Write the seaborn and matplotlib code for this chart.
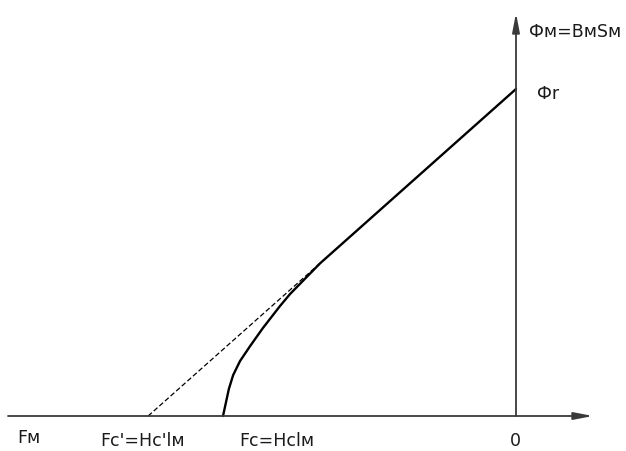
#Import packages
import numpy as np
import pandas as pd
import matplotlib
matplotlib.use("Agg")
import matplotlib.pyplot as plt
import seaborn as sns

#Demagnetisation curve (Фr = 1, flux on y, mmf on x)
curve_F = [0.0, -0.599, -0.645, -0.691, -0.722, -0.774, -0.813, -0.844, -0.865, -0.878, -0.896]
curve_Phi = [1.0, 0.467, 0.420, 0.373, 0.336, 0.269, 0.214, 0.168, 0.125, 0.083, 0.0]

#Straight return line, dashed part from Fc' up to where it meets the curve
dash_F = [-1.125, -0.60]
dash_Phi = [0.0, 0.4665]

#Labels
label_flux = "Фм=BмSм"
label_flux_r = "Фr"
label_mmf = "Fм"
label_fc_prime = "Fc'=Hc'lм"
label_fc = "Fc=Hclм"
label_zero = "0"

curve = pd.DataFrame({"F": curve_F, "Phi": curve_Phi})
dashed = pd.DataFrame({"F": dash_F, "Phi": dash_Phi})

#Change style
sns.set_style("white")
plt.rcParams["font.family"] = ["DejaVu Sans"]

#Figure with one axes filling it
fig = plt.figure(figsize=(6.26, 4.52), dpi=100)
ax = fig.add_axes([0, 0, 1, 1])

#Scale: 327 px per unit, origin at pixel (516, 417)
ax.set_xlim(-516 / 327, 110 / 327)
ax.set_ylim(-35 / 327, 417 / 327)
ax.set_axis_off()

#Coordinate axes with arrows
axis_color = "#3a3a3a"
arrow = dict(arrowstyle="-|>,head_length=1.15,head_width=0.22",
             mutation_scale=10, lw=1.3, color=axis_color,
             shrinkA=0, shrinkB=0)
ax.annotate("", xy=(77 / 327, 0), xytext=(-508 / 327, 0), arrowprops=arrow)
ax.annotate("", xy=(0, 403 / 327), xytext=(0, 0), arrowprops=arrow)

#Plot the curve and the dashed line
sns.lineplot(ax=ax, data=dashed, x="F", y="Phi", sort=False,
             color="black", lw=0.9, linestyle=(0, (4, 2)))
sns.lineplot(ax=ax, data=curve, x="F", y="Phi", sort=False,
             color="black", lw=1.7)

#Text labels (figure pixels -> fraction)
def put(text, px, py, ha="left"):
    fig.text(px / 626, 1 - py / 452, text, ha=ha, va="baseline",
             fontsize=12.5, color="#1a1a1a")

put(label_flux, 529, 37)
put(label_flux_r, 537, 99)
put(label_mmf, 17, 443)
put(label_fc_prime, 100, 446)
put(label_fc, 239, 446)
put(label_zero, 515, 446, ha="center")

fig.savefig("out.png", dpi=100)
